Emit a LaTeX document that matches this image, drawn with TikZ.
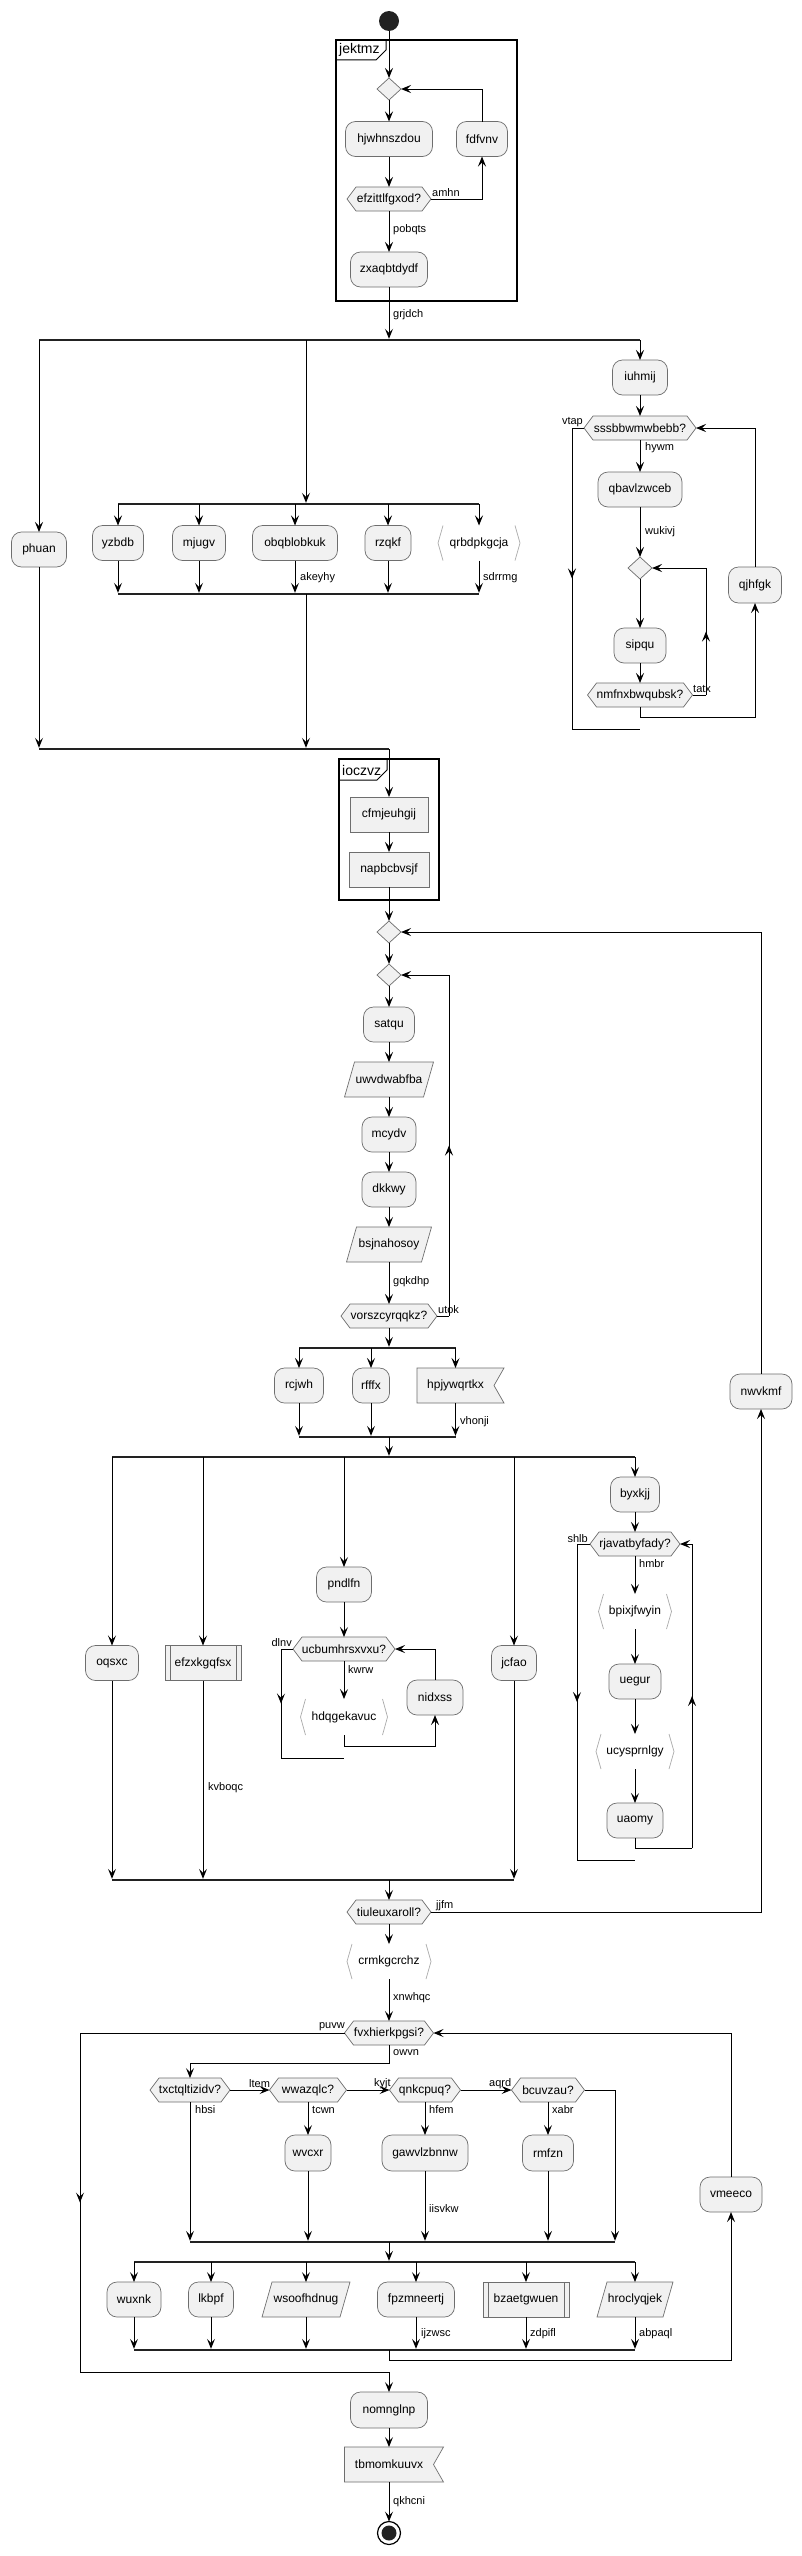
\documentclass[tikz,border=0pt]{standalone}
\usepackage{fontspec}
\setmainfont{Liberation Sans}
\usetikzlibrary{arrows.meta,backgrounds,decorations.markings}
\definecolor{fc}{HTML}{F1F1F1}
\definecolor{bc}{HTML}{6E6E6E}
\definecolor{chc}{HTML}{AAAAAA}
\definecolor{barc}{HTML}{222222}
\definecolor{startc}{HTML}{222222}
\tikzset{
 tb/.style={rectangle, inner sep=0pt, outer sep=0pt, minimum height=35pt, font=\fontsize{12}{14}\selectfont},
 hx/.style={tb, minimum height=24pt},
 dm/.style={rectangle, inner sep=0pt, outer sep=0pt, minimum width=24pt, minimum height=22pt},
 lbl/.style={font=\fontsize{11}{13}\selectfont, inner sep=0pt, anchor=west},
 lbr/.style={lbl, anchor=east},
 ttl/.style={font=\fontsize{14}{16}\selectfont, inner sep=0pt, anchor=west},
 ln/.style={line width=1pt, draw=black},
 ar/.style={ln, -{Stealth[length=10pt,width=8pt,inset=4pt]}},
 arb/.style={ar, shorten >=1.2pt},
 mid/.style={ln, postaction={decorate}, decoration={markings, mark=at position 0.5 with {\arrow{Stealth[length=10pt,width=8pt,inset=4pt]}}}},
 bar/.style={line width=2.4pt, draw=barc},
 shp/.style={fill=fc, draw=bc, line width=0.7pt},
 part/.style={line width=1.6pt, draw=black},
 tab/.style={line width=1pt, draw=black}
}
\begin{document}
\begin{tikzpicture}[x=1pt,y=-1pt]
\useasboundingbox (0,0) rectangle (801,2556);
% ---------- nodes ----------
\node[circle, fill=startc, minimum size=20pt, inner sep=0pt, outer sep=0pt] (st) at (389,21) {};
\node[dm] (d1) at (389,89) {};
\node[tb, minimum width=87pt] (hjw) at (389,139) {hjwhnszdou};
\node[tb, minimum width=51pt] (fdf) at (482,139) {fdfvnv};
\node[hx, minimum width=84pt] (efz) at (389,199) {efzittlfgxod?};
\node[tb, minimum width=77pt] (zxa) at (389,269.5) {zxaqbtdydf};
\node[ttl] (t1) at (339,50) {jektmz};
\coordinate (b1) at (389,340);
\node[tb, minimum width=55pt] (phu) at (39,549.5) {phuan};
\coordinate (b2) at (306,504);
\node[tb, minimum width=51pt] (yzb) at (118,543) {yzbdb};
\node[tb, minimum width=53pt] (mju) at (199,543) {mjugv};
\node[tb, minimum width=85pt] (obq) at (295,543) {obqblobkuk};
\node[tb, minimum width=46pt] (rzq) at (388,543) {rzqkf};
\node[tb, minimum width=82pt] (qrb) at (479,543) {qrbdpkgcja};
\coordinate (j2) at (306,594);
\coordinate (j3) at (389,749);
\node[tb, minimum width=55pt] (iuh) at (640,377.5) {iuhmij};
\node[hx, minimum width=112pt] (sss) at (640,428) {sssbbwmwbebb?};
\node[tb, minimum width=84pt] (qba) at (640,489.5) {qbavlzwceb};
\node[dm] (d3) at (640,568) {};
\node[tb, minimum width=52pt] (sip) at (640,645.5) {sipqu};
\node[hx, minimum width=105pt] (nmf) at (640,695) {nmfnxbwqubsk?};
\node[tb, minimum width=53pt, minimum height=36pt] (qjh) at (755,585) {qjhfgk};
\coordinate (rl) at (572,729);
\coordinate (c1) at (706,695);
\coordinate (c2) at (755,717);
% partition 2
\node[ttl] (t2) at (342,770) {ioczvz};
\node[tb, minimum width=78pt] (cfm) at (389,814.5) {cfmjeuhgij};
\node[tb, minimum width=80pt] (nap) at (389,869.5) {napbcbvsjf};
\node[dm] (d4) at (389,932) {};
\node[dm] (d5) at (389,975) {};
\node[tb, minimum width=51pt] (sat) at (389,1024.5) {satqu};
\node[tb, minimum width=89pt] (uwv) at (389,1079.5) {uwvdwabfba};
\node[tb, minimum width=54pt] (mcy) at (389,1134.5) {mcydv};
\node[tb, minimum width=54pt] (dkk) at (389,1189.5) {dkkwy};
\node[tb, minimum width=85pt] (bsj) at (389,1244.5) {bsjnahosoy};
\node[hx, minimum width=96pt] (vor) at (389,1316) {vorszcyrqqkz?};
\coordinate (c3) at (449,1316);
\coordinate (b4) at (389,1348);
\node[tb, minimum width=49pt] (rcj) at (299,1385.5) {rcjwh};
\node[tb, minimum width=37pt] (rff) at (371,1385.5) {rfffx};
\node[tb, minimum width=77pt] (hpj) at (455.5,1385.5) {hpjywqrtkx};
\coordinate (j5) at (389,1437);
\coordinate (b6) at (389,1457);
\node[tb, minimum width=53pt] (oqs) at (112,1663) {oqsxc};
\node[tb, minimum width=76pt] (efx) at (203,1663) {efzxkgqfsx};
\node[tb, minimum width=55pt] (pnd) at (344,1584.5) {pndlfn};
\node[hx, minimum width=102pt] (ucb) at (344,1649) {ucbumhrsxvxu?};
\node[tb, minimum width=87pt, minimum height=36pt] (hdq) at (344,1717) {hdqgekavuc};
\node[tb, minimum width=56pt] (nid) at (435,1697.5) {nidxss};
\coordinate (c4) at (281,1758);
\coordinate (c5) at (435,1746);
\node[tb, minimum width=45pt] (jcf) at (514,1663) {jcfao};
\node[tb, minimum width=49pt] (byx) at (635,1494.5) {byxkjj};
\node[hx, minimum width=90pt] (rja) at (635,1544) {rjavatbyfady?};
\node[tb, minimum width=73pt] (bpi) at (635,1611.5) {bpixjfwyin};
\node[tb, minimum width=52pt] (ueg) at (635,1681.5) {uegur};
\node[tb, minimum width=78pt] (ucy) at (635,1751.5) {ucysprnlgy};
\node[tb, minimum width=56pt] (uao) at (635,1820.5) {uaomy};
\coordinate (c6) at (577,1860);
\coordinate (c7) at (692,1848);
\coordinate (j7) at (389,1880);
\node[hx, minimum width=84pt] (tiu) at (389,1912) {tiuleuxaroll?};
\node[tb, minimum width=62pt] (nwv) at (761,1391.5) {nwvkmf};
\node[tb, minimum width=84pt] (crm) at (389,1961.5) {crmkgcrchz};
\node[hx, minimum width=89pt] (fvx) at (389,2033) {fvxhierkpgsi?};
\coordinate (c8) at (80,2372);
\coordinate (c9) at (190,2063);
\node[hx, minimum width=80pt] (txc) at (190,2090) {txctqltizidv?};
\node[hx, minimum width=77pt] (wwa) at (308,2090) {wwazqlc?};
\node[hx, minimum width=71pt] (qnk) at (425,2090) {qnkcpuq?};
\node[hx, minimum width=73pt] (bcu) at (548,2090) {bcuvzau?};
\node[tb, minimum width=46pt, minimum height=36pt] (wvc) at (308,2153) {wvcxr};
\node[tb, minimum width=86pt, minimum height=36pt] (gaw) at (425,2153) {gawvlzbnnw};
\node[tb, minimum width=51pt, minimum height=36pt] (rmf) at (548,2153) {rmfzn};
\coordinate (j8) at (389,2242);
\coordinate (c10) at (615,2242);
\coordinate (b9) at (389,2262);
\node[tb, minimum width=54pt] (wux) at (134,2299.5) {wuxnk};
\node[tb, minimum width=45pt] (lkb) at (211,2299.5) {lkbpf};
\node[tb, minimum width=88pt] (wso) at (306,2299.5) {wsoofhdnug};
\node[tb, minimum width=77pt] (fpz) at (416,2299.5) {fpzmneertj};
\node[tb, minimum width=86pt] (bza) at (526,2299.5) {bzaetgwuen};
\node[tb, minimum width=76pt] (hro) at (635,2299.5) {hroclyqjek};
\coordinate (j10) at (389,2350);
\node[tb, minimum width=62pt] (vme) at (731,2194.5) {vmeeco};
\node[tb, minimum width=77pt, minimum height=36pt] (nom) at (389,2410) {nomnglnp};
\node[tb, minimum width=89pt] (tbm) at (389,2464.5) {tbmomkuuvx};
\node[circle, draw=black, line width=1.2pt, fill=white, minimum size=23pt, inner sep=0pt, outer sep=0pt] (en) at (389,2533) {};
\fill[startc] (en.center) circle (7.5pt);
% ---------- shapes (background) ----------
\begin{pgfonlayer}{background}
\fill[white] (0,0) rectangle (801,2556);
\foreach \n in {hjw,fdf,zxa,phu,yzb,mju,obq,rzq,iuh,qba,sip,qjh,sat,mcy,dkk,rcj,rff,oqs,pnd,nid,jcf,byx,ueg,uao,nwv,wvc,gaw,rmf,wux,lkb,fpz,vme,nom}
  \draw[shp, rounded corners=10pt] (\n.north west) rectangle (\n.south east);
\foreach \n in {efz,sss,nmf,vor,ucb,rja,tiu,fvx,txc,wwa,qnk,bcu}
  \draw[shp] (\n.west) -- ([xshift=9pt]\n.north west) -- ([xshift=-9pt]\n.north east) -- (\n.east) -- ([xshift=-9pt]\n.south east) -- ([xshift=9pt]\n.south west) -- cycle;
\foreach \n in {d1,d3,d4,d5}
  \draw[shp] (\n.west) -- (\n.north) -- (\n.east) -- (\n.south) -- cycle;
\foreach \n in {cfm,nap}
  \draw[shp] (\n.north west) rectangle (\n.south east);
\foreach \n in {efx,bza}{
  \draw[shp] (\n.north west) rectangle (\n.south east);
  \draw[draw=bc, line width=0.7pt] ([xshift=5pt]\n.north west) -- ([xshift=5pt]\n.south west) ([xshift=-5pt]\n.north east) -- ([xshift=-5pt]\n.south east);}
\foreach \n in {uwv,bsj,wso,hro}
  \draw[shp] (\n.south west) -- ([xshift=10pt]\n.north west) -- (\n.north east) -- ([xshift=-10pt]\n.south east) -- cycle;
\foreach \n in {hpj,tbm}
  \draw[shp] (\n.north west) -- ([xshift=10pt]\n.north east) -- (\n.east) -- ([xshift=10pt]\n.south east) -- (\n.south west) -- cycle;
\foreach \n in {qrb,hdq,bpi,ucy,crm}
  \draw[draw=chc, line width=0.7pt] ([xshift=5pt]\n.north west) -- (\n.west) -- ([xshift=5pt]\n.south west) ([xshift=-5pt]\n.north east) -- (\n.east) -- ([xshift=-5pt]\n.south east);
\end{pgfonlayer}
% ---------- partitions ----------
\draw[part] (336,40) rectangle (517,301);
\draw[tab] (336,60) -- (376,60) -- (386,50) -- (386,40);
\draw[part] (339,759) rectangle (439,900);
\draw[tab] (339,780) -- (377,780) -- (387,770) -- (387,759);
% ---------- bars ----------
\draw[bar] (phu |- b1) -- (iuh |- b1);
\draw[bar] (yzb |- b2) -- (qrb |- b2);
\draw[bar] (yzb |- j2) -- (qrb |- j2);
\draw[bar] (phu |- j3) -- (j3);
\draw[bar] (rcj |- b4) -- (hpj |- b4);
\draw[bar] (rcj |- j5) -- (hpj |- j5);
\draw[bar] (oqs |- b6) -- (byx |- b6);
\draw[bar] (oqs |- j7) -- (jcf |- j7);
\draw[bar] (txc |- j8) -- (c10);
\draw[bar] (wux |- b9) -- (hro |- b9);
\draw[bar] (wux |- j10) -- (hro |- j10);
% ---------- edges: top ----------
\draw[ar] (st) -- (d1);
\draw[ar] (d1) -- (hjw);
\draw[ar] (hjw) -- (efz);
\draw[ar] (efz.east) -| (fdf.south);
\draw[ar] (fdf.north) |- (d1.east);
\draw[ar] (efz) -- (zxa);
\draw[arb] (zxa) -- (b1);
\node[lbl] (l1) at (432,193) {amhn};
\node[lbl] (l2) at (393,230) {pobqts};
\node[lbl] (l3) at (393,315) {grjdch};
% fork 1
\draw[ar] (b1 -| phu) -- (phu);
\draw[arb] (b1 -| b2) -- (b2);
\draw[ar] (b1 -| iuh) -- (iuh);
\foreach \n in {yzb,mju,obq,rzq,qrb} {
  \draw[ar] (b2 -| \n) -- (\n);
  \draw[arb] (\n) -- (\n |- j2);}
\node[lbl] (l4) at (300,578) {akeyhy};
\node[lbl] (l5) at (483,578) {sdrrmg};
\draw[arb] (j2) -- (j2 |- j3);
\draw[arb] (phu) -- (phu |- j3);
\draw[ar] (j3) -- (cfm);
% right loop
\draw[ar] (iuh) -- (sss);
\draw[ln] (sss.west) -- (sss.west -| rl);
\draw[mid] (sss.west -| rl) -- (rl);
\draw[ln] (rl) -- (rl -| sss);
\draw[ar] (sss) -- (qba);
\draw[ar] (qba) -- (d3);
\draw[ar] (d3) -- (sip);
\draw[ar] (sip) -- (nmf);
\draw[ln] (nmf.east) -- (c1);
\draw[mid] (c1) -- (c1 |- d3);
\draw[ar] (c1 |- d3) -- (d3.east);
\draw[ar] (nmf.south) |- (c2) -- (qjh.south);
\draw[ar] (qjh.north) |- (sss.east);
\node[lbr] (l6) at (583,422) {vtap};
\node[lbl] (l7) at (645,448) {hywm};
\node[lbl] (l8) at (645,532) {wukivj};
\node[lbl] (l9) at (693,689) {tatx};
% partition 2 and loop
\draw[ar] (cfm) -- (nap);
\draw[ar] (nap) -- (d4);
\draw[ar] (d4) -- (d5);
\draw[ar] (d5) -- (sat);
\draw[ar] (sat) -- (uwv);
\draw[ar] (uwv) -- (mcy);
\draw[ar] (mcy) -- (dkk);
\draw[ar] (dkk) -- (bsj);
\draw[ar] (bsj) -- (vor);
\node[lbl] (l10) at (393,1282) {gqkdhp};
\draw[ln] (vor.east) -- (c3);
\draw[mid] (c3) -- (c3 |- d5);
\draw[ar] (c3 |- d5) -- (d5.east);
\node[lbl] (l11) at (438,1310) {utok};
\draw[arb] (vor) -- (b4);
\foreach \n in {rcj,rff,hpj} {
  \draw[ar] (b4 -| \n) -- (\n);
  \draw[arb] (\n) -- (\n |- j5);}
\node[lbl] (l12) at (460,1422) {vhonji};
\draw[arb] (j5) -- (b6);
% fork 6
\foreach \n in {oqs,efx,pnd,jcf,byx}
  \draw[ar] (b6 -| \n) -- (\n);
\foreach \n in {oqs,efx,jcf}
  \draw[arb] (\n) -- (\n |- j7);
\node[lbl] (l13) at (208,1788) {kvboqc};
\draw[ar] (pnd) -- (ucb);
\draw[ar] (ucb) -- (hdq);
\node[lbl] (l14) at (348,1669) {kwrw};
\node[lbr] (l15) at (292,1643) {dlnv};
\draw[ln] (ucb.west) -- (ucb.west -| c4);
\draw[mid] (ucb.west -| c4) -- (c4);
\draw[ln] (c4) -- (c4 -| ucb);
\draw[ar] (hdq.south) |- (c5) -- (nid.south);
\draw[ar] (nid.north) |- (ucb.east);
\draw[ar] (byx) -- (rja);
\draw[ar] (rja) -- (bpi);
\draw[ar] (bpi) -- (ueg);
\draw[ar] (ueg) -- (ucy);
\draw[ar] (ucy) -- (uao);
\node[lbl] (l16) at (639,1564) {hmbr};
\node[lbr] (l17) at (588,1539) {shlb};
\draw[ln] (rja.west) -- (rja.west -| c6);
\draw[mid] (rja.west -| c6) -- (c6);
\draw[ln] (c6) -- (c6 -| rja);
\draw[ln] (uao.south) |- (c7);
\draw[mid] (c7) -- (c7 |- rja);
\draw[ar] (c7 |- rja) -- (rja.east);
% after join 7
\draw[ar] (j7) -- (tiu);
\draw[ar] (tiu.east) -| (nwv.south);
\draw[ar] (nwv.north) |- (d4.east);
\node[lbl] (l18) at (436,1906) {jjfm};
\draw[ar] (tiu) -- (crm);
\draw[ar] (crm) -- (fvx);
\node[lbl] (l19) at (393,1998) {xnwhqc};
\draw[ln] (fvx.west) -- (fvx.west -| c8);
\draw[mid] (fvx.west -| c8) -- (c8);
\draw[ar] (c8) -| (nom.north);
\node[lbr] (l20) at (345,2027) {puvw};
\draw[ar] (fvx.south) |- (c9) -- (txc.north);
\node[lbl] (l21) at (393,2053) {owvn};
\draw[ar] (txc.east) -- (wwa.west);
\draw[ar] (wwa.east) -- (qnk.west);
\draw[ar] (qnk.east) -- (bcu.west);
\node[lbl] (l22) at (249,2084) {ltem};
\node[lbl] (l23) at (374,2084) {kyjt};
\node[lbl] (l24) at (489,2084) {aqrd};
\draw[arb] (txc) -- (txc |- j8);
\node[lbl] (l25) at (195,2110) {hbsi};
\draw[ar] (wwa) -- (wvc);
\draw[ar] (qnk) -- (gaw);
\draw[ar] (bcu) -- (rmf);
\node[lbl] (l26) at (312,2110) {tcwn};
\node[lbl] (l27) at (429,2110) {hfem};
\node[lbl] (l28) at (552,2110) {xabr};
\foreach \n in {wvc,gaw,rmf}
  \draw[arb] (\n) -- (\n |- j8);
\node[lbl] (l29) at (429,2209) {iisvkw};
\draw[arb] (bcu.east) -| (c10);
\draw[arb] (j8) -- (b9);
\foreach \n in {wux,lkb,wso,fpz,bza,hro} {
  \draw[ar] (b9 -| \n) -- (\n);
  \draw[arb] (\n) -- (\n |- j10);}
\node[lbl] (l30) at (421,2334) {ijzwsc};
\node[lbl] (l31) at (530,2334) {zdpifl};
\node[lbl] (l32) at (639,2334) {abpaql};
\draw[ar] (j10) -- ++(0,10) -| (vme.south);
\draw[ar] (vme.north) |- (fvx.east);
\draw[ar] (nom) -- (tbm);
\draw[ar] (tbm) -- (en);
\node[lbl] (l33) at (393,2502) {qkhcni};
\end{tikzpicture}
\end{document}
